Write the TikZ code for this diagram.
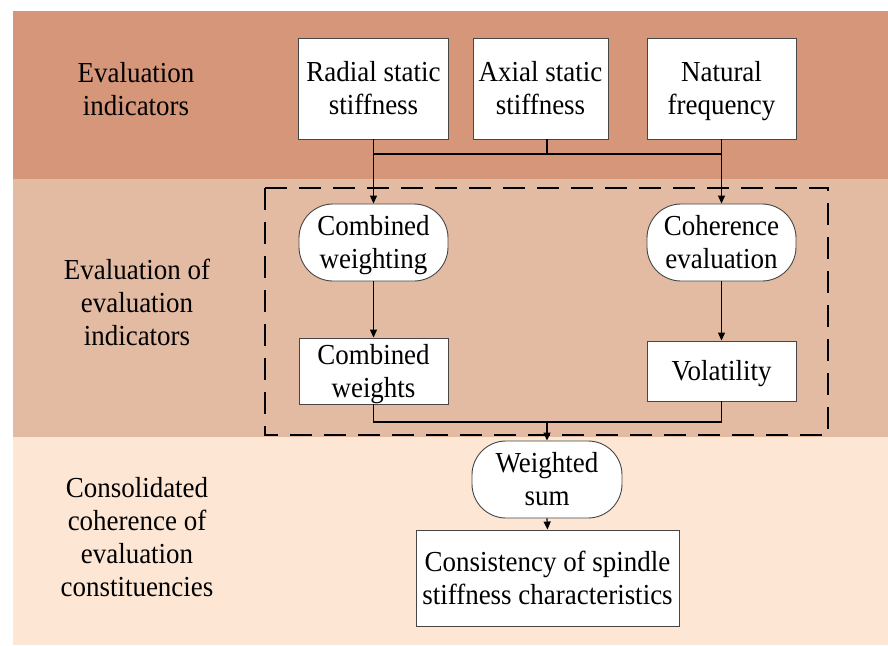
\documentclass[tikz,border=0pt]{standalone}
\usepackage{fontspec}
\setmainfont{Liberation Serif}[FakeStretch=0.93]
\usetikzlibrary{arrows.meta}
\definecolor{bandA}{RGB}{214,150,122}
\definecolor{bandB}{RGB}{227,187,163}
\definecolor{bandC}{RGB}{253,230,212}
\definecolor{edge}{RGB}{70,70,70}
\newcommand{\Sl}{\vrule width 0pt height 26pt depth 7pt\relax}
\begin{document}
\begin{tikzpicture}[x=1pt,y=-1pt,
  txt/.style={font=\fontsize{29}{33}\selectfont, align=center, inner sep=0pt},
  sqbox/.style={txt, draw=edge, line width=0.9pt, fill=white, rectangle},
  rbox/.style={txt, draw=edge, line width=0.9pt, fill=white, rectangle, rounded corners=34pt},
  conn/.style={line width=1.2pt, black},
  arr/.style={conn, -{Triangle[length=8pt,width=7pt]}},
  lbl/.style={txt}]
\useasboundingbox (0,0) rectangle (888,645);
\fill[white] (0,0) rectangle (888,645);
% bands
\fill[bandA] (13,11) rectangle (888,179);
\fill[bandB] (13,179) rectangle (888,437);
\fill[bandC] (13,437) rectangle (888,645);
% left labels
\node[lbl] (l1) at (136,89) {\Sl Evaluation\\\Sl indicators};
\node[lbl] (l2) at (137,303) {\Sl Evaluation of\\\Sl evaluation\\\Sl indicators};
\node[lbl] (l3) at (137,537) {\Sl Consolidated\\\Sl coherence of\\\Sl evaluation\\\Sl constituencies};
% dashed frame
\draw[line width=1.8pt, dash pattern=on 22pt off 12pt] (265,188) rectangle (828,435);
% top boxes
\node[sqbox, minimum width=150pt, minimum height=101pt] (rad) at (373.5,88.5) {\Sl Radial static\\\Sl stiffness};
\node[sqbox, minimum width=135pt, minimum height=101pt] (axi) at (540.5,88.5) {\Sl Axial static\\\Sl stiffness};
\node[sqbox, minimum width=149pt, minimum height=101pt] (nat) at (721.5,88.5) {\Sl Natural\\\Sl frequency};
% middle
\node[rbox, minimum width=149pt, minimum height=77pt] (cwg) at (373.5,242.5) {\Sl Combined\\\Sl weighting};
\node[rbox, minimum width=149pt, minimum height=77pt] (coh) at (721.5,242.5) {\Sl Coherence\\\Sl evaluation};
\node[sqbox, minimum width=149pt, minimum height=60pt] (cws) at (373.5,371) {\Sl Combined\\\Sl weights};
\node[sqbox, minimum width=149pt, minimum height=60pt] (vol) at (721.5,371) {\Sl Volatility};
% bottom
\node[rbox, minimum width=150pt, minimum height=77pt] (ws) at (547,479.5) {\Sl Weighted\\\Sl sum};
\node[sqbox, minimum width=263pt, minimum height=96pt] (fin) at (547.5,578) {\Sl Consistency of spindle\\\Sl stiffness characteristics};
% junctions
\coordinate (jL) at (373.5,154);
\coordinate (jM) at (547,154);
\coordinate (jR) at (721.5,154);
\coordinate (bL) at (373.5,422);
\coordinate (bM) at (547,422);
\coordinate (bR) at (721.5,422);
% connectors
\draw[conn] (rad.south) -- (jL) -- (jR);
\draw[conn] (nat.south) -- (jR);
\draw[conn] (axi.south -| jM) -- (jM);
\draw[arr] (jL) -- (cwg.north);
\draw[arr] (jR) -- (coh.north);
\draw[arr] (cwg.south) -- (cws.north);
\draw[arr] (coh.south) -- (vol.north);
\draw[conn] (cws.south) -- (bL) -- (bR) -- (vol.south);
\draw[arr] (bM) -- (ws.north);
\draw[arr] (ws.south) -- (fin.north);
\end{tikzpicture}
\end{document}
